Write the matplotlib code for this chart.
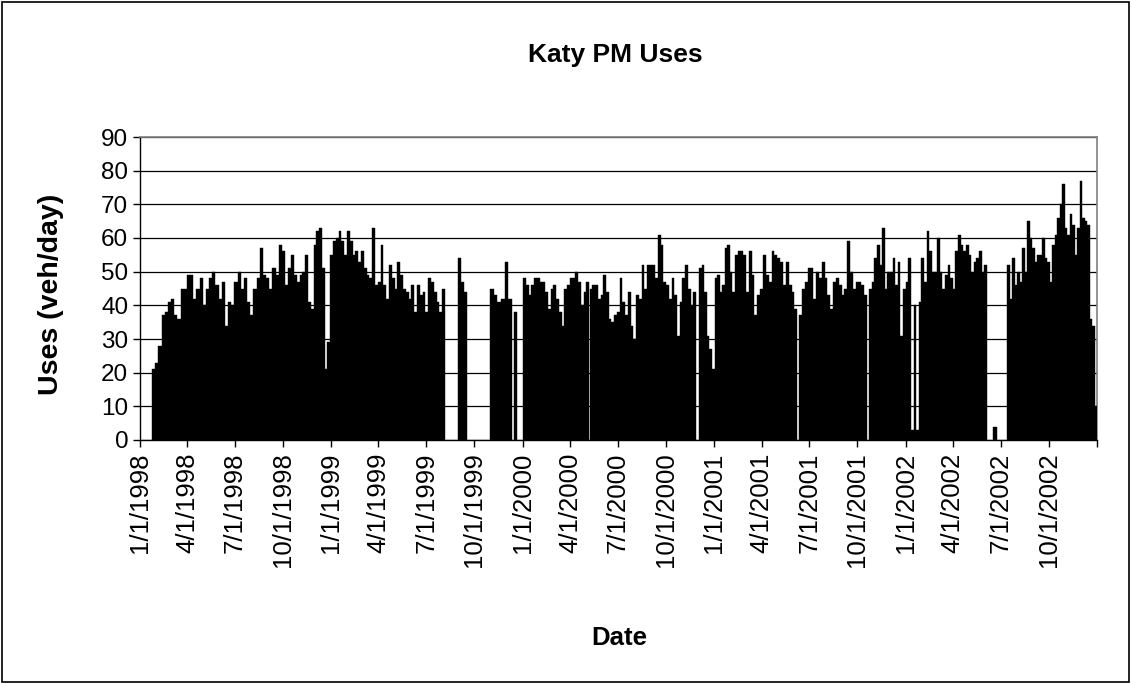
import pandas as pd
import matplotlib
matplotlib.use("Agg")
import matplotlib.pyplot as plt
import matplotlib.dates as mdates
from matplotlib.patches import Rectangle

plt.rcParams['font.family'] = ['Liberation Sans', 'DejaVu Sans']

# daily uses, one stretch of counting at a time:
# (first day, last day, readings spread evenly over the stretch)
uses_98a = ("1998-01-24", "1998-10-11",
            [21, 23, 28, 37, 38, 41, 42, 37, 36, 45, 45, 49, 49, 42, 45, 48, 40, 45, 48, 50,
             46, 42, 47, 34, 41, 40, 47, 50, 45, 48, 41, 37, 45, 48, 57, 49, 48, 45, 51, 49,
             58, 56, 46])
uses_98b = ("1998-10-11", "1999-08-06",
            [51, 55, 49, 47, 49, 50, 55, 41, 39, 58, 62, 63, 51, 21, 29, 55, 59, 60, 62, 59,
             55, 62, 59, 55, 56, 53, 56, 51, 49, 48, 63, 46, 47, 58, 46, 42, 52, 48, 45, 53,
             49, 45, 44, 42, 46, 38, 46, 43, 44, 38, 48, 47, 44, 41, 38, 45])
uses_99a = ("1999-08-31", "1999-09-17", [54, 47, 44])
uses_99b = ("1999-10-31", "1999-12-12", [45, 43, 41, 42, 53, 42])
uses_99c = ("1999-12-16", "1999-12-22", [38])
uses_00a = ("2000-01-02", "2000-05-07",
            [48, 46, 43, 46, 48, 48, 47, 47, 44, 39, 45, 46, 42, 38, 34, 45, 46, 48, 48, 50,
             47, 40, 44, 47])
uses_00b = ("2000-05-08", "2000-11-27",
            [45, 46, 46, 42, 43, 49, 44, 36, 35, 37, 38, 48, 41, 37, 44, 34, 30, 43, 42, 52,
             45, 52, 52, 52, 48, 61, 58, 47, 46, 42, 48, 43, 31, 41, 48, 52, 45, 40, 44])
uses_00c = ("2000-12-03", "2001-02-19",
            [51, 52, 44, 31, 27, 21, 48, 49, 44, 46, 57, 58, 50, 44, 55, 56])
uses_01a = ("2001-02-19", "2001-06-08",
            [56, 55, 44, 56, 49, 37, 43, 45, 55, 49, 47, 56, 55, 54, 53, 46, 53, 46, 44, 39])
uses_01b = ("2001-06-12", "2001-10-19",
            [37, 45, 47, 51, 51, 42, 50, 48, 53, 48, 43, 39, 47, 48, 46, 43, 45, 59, 50, 45,
             47, 47, 46, 43])
uses_01c = ("2001-10-23", "2001-12-02", [45, 47, 54, 58, 52, 63, 45, 50])
uses_01d = ("2001-12-02", "2002-06-05",
            [50, 54, 46, 53, 31, 45, 47, 54, 3, 40, 3, 41, 54, 47, 62, 56, 50, 50, 60, 50,
             45, 49, 52, 48, 45, 56, 61, 58, 56, 58, 55, 50, 53, 54, 56, 50, 52])
uses_02a = ("2002-06-17", "2002-06-24", [4])
uses_02b = ("2002-07-14", "2003-01-01",
            [52, 42, 54, 46, 50, 47, 57, 50, 65, 60, 57, 53, 55, 55, 60, 54, 53, 47, 58, 61,
             66, 70, 76, 63, 61, 67, 64, 55, 63, 77, 66, 65, 64, 36, 34, 10])

stretches = [uses_98a, uses_98b, uses_99a, uses_99b, uses_99c, uses_00a, uses_00b,
             uses_00c, uses_01a, uses_01b, uses_01c, uses_01d, uses_02a, uses_02b]

tick_dates = pd.date_range("1998-01-01", "2003-01-01", freq="QS")

fig = plt.figure(figsize=(11.32, 6.83), dpi=100)
ax = fig.add_axes([140 / 1132, 1 - 440 / 683, 957 / 1132, 303 / 683])

for start, end, vals in stretches:
    s = mdates.date2num(pd.Timestamp(start))
    e = mdates.date2num(pd.Timestamp(end))
    step = (e - s) / len(vals)
    xs = [s + step * i for i in range(len(vals))]
    ax.bar(xs, vals, width=step, align='edge', color='black', edgecolor='black',
           linewidth=0.3, zorder=3)

ax.set_xlim(mdates.date2num(tick_dates[0]), mdates.date2num(tick_dates[-1]))
ax.set_ylim(0, 90)
ax.set_yticks(range(0, 91, 10))
ax.set_xticks(mdates.date2num(tick_dates))
labels = [f"{d.month}/{d.day}/{d.year}" for d in tick_dates]
labels[-1] = ""
ax.set_xticklabels(labels, rotation=90, fontsize=18.5)
ax.tick_params(axis='y', labelsize=17.5, length=5, width=1, direction='out')
ax.tick_params(axis='x', length=5, width=1, direction='out', pad=4)

ax.yaxis.grid(True, color='black', linewidth=0.9, zorder=0)
ax.set_axisbelow(True)
for side in ['top', 'right']:
    ax.spines[side].set_color('#808080')
    ax.spines[side].set_linewidth(1.2)
for side in ['left', 'bottom']:
    ax.spines[side].set_color('black')
    ax.spines[side].set_linewidth(1)

fig.text(615 / 1132, 1 - 55 / 683, "Katy PM Uses", ha='center', va='center',
         fontsize=19, fontweight='bold')
fig.text(51 / 1132, 1 - 294 / 683, "Uses (veh/day)", ha='center', va='center',
         rotation=90, fontsize=20.5, fontweight='bold')
fig.text(619 / 1132, 1 - 638 / 683, "Date", ha='center', va='center',
         fontsize=18.5, fontweight='bold')

# outer border of the chart area
fig.patches.append(Rectangle((0.002, 0.002), 0.995, 0.995, transform=fig.transFigure,
                             fill=False, edgecolor='black', linewidth=1.2))

fig.savefig("out.png", dpi=100)
